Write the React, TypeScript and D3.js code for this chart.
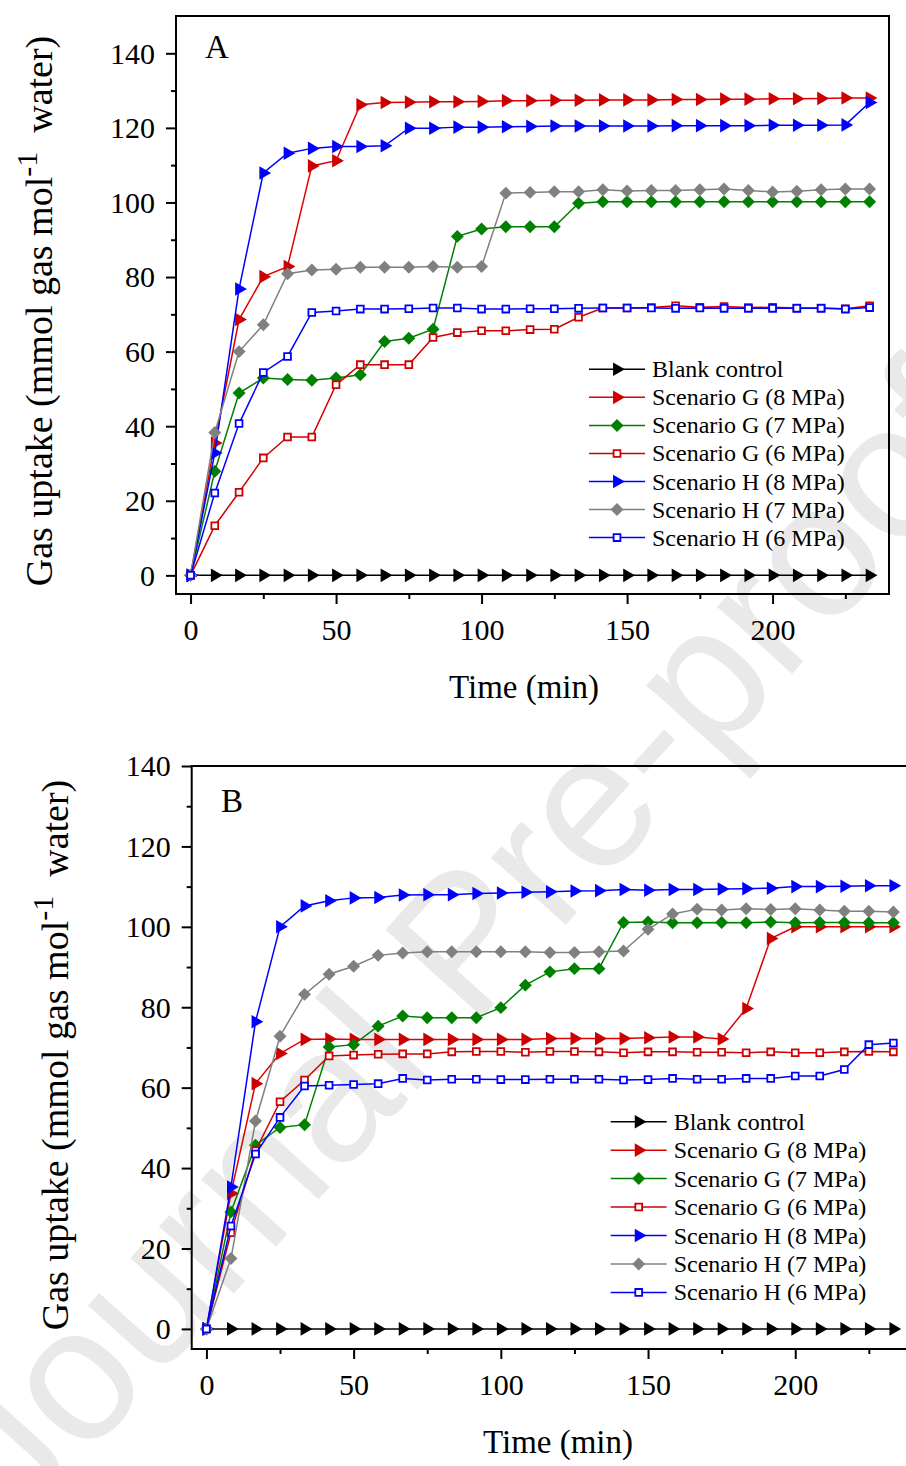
import { useEffect, useRef } from 'react';
import * as d3 from 'd3';

// time points (min)
const time = [0, 8.33, 16.67, 25, 33.33, 41.67, 50, 58.33, 66.67, 75, 83.33, 91.67, 100, 108.33, 116.67,
  125, 133.33, 141.67, 150, 158.33, 166.67, 175, 183.33, 191.67, 200, 208.33, 216.67, 225, 233.33];

const seriesNames = ['Blank control', 'Scenario G (8 MPa)', 'Scenario G (7 MPa)', 'Scenario G (6 MPa)',
  'Scenario H (8 MPa)', 'Scenario H (7 MPa)', 'Scenario H (6 MPa)'];

const xTicks = [0, 50, 100, 150, 200];
const xMinor = [25, 75, 125, 175, 225];
const yTicks = [0, 20, 40, 60, 80, 100, 120, 140];
const yMinor = [10, 30, 50, 70, 90, 110, 130];

// panel A
const blankA = [0, 0, 0, 0, 0, 0, 0, 0, 0, 0, 0, 0, 0, 0, 0, 0, 0, 0, 0, 0, 0, 0, 0, 0, 0, 0, 0, 0, 0];
const g8A = [0, 35.5, 68.6, 80.1, 82.8, 109.8, 111.2, 126.2, 126.8, 126.9, 127.0, 127.0, 127.1, 127.3, 127.3,
  127.4, 127.4, 127.5, 127.5, 127.5, 127.6, 127.6, 127.7, 127.7, 127.8, 127.8, 127.9, 128.0, 128.0];
const g7A = [0, 27.9, 48.9, 52.9, 52.5, 52.3, 52.9, 53.8, 62.7, 63.6, 66.0, 90.9, 92.9, 93.5, 93.5,
  93.5, 99.8, 100.2, 100.2, 100.2, 100.2, 100.2, 100.2, 100.2, 100.2, 100.2, 100.2, 100.2, 100.2];
const g6A = [0, 13.3, 22.3, 31.5, 37.1, 37.1, 51.1, 56.5, 56.5, 56.5, 63.8, 65.1, 65.6, 65.6, 65.9,
  66.0, 69.2, 71.7, 71.7, 71.8, 72.3, 71.9, 72.1, 71.8, 71.9, 71.7, 71.7, 71.5, 72.3];
const h8A = [0, 32.8, 76.8, 107.9, 113.2, 114.5, 115.0, 115.0, 115.2, 119.9, 119.9, 120.2, 120.2, 120.3, 120.4,
  120.5, 120.5, 120.5, 120.5, 120.5, 120.6, 120.6, 120.6, 120.6, 120.7, 120.7, 120.7, 120.8, 126.8];
const h7A = [0, 38.3, 60.0, 67.2, 80.9, 81.9, 82.1, 82.6, 82.6, 82.6, 82.8, 82.6, 82.8, 102.5, 102.7,
  102.9, 102.9, 103.4, 103.1, 103.2, 103.2, 103.4, 103.6, 103.2, 102.8, 103.0, 103.4, 103.6, 103.6];
const h6A = [0, 22.1, 40.7, 54.4, 58.7, 70.5, 70.9, 71.4, 71.4, 71.5, 71.7, 71.7, 71.4, 71.4, 71.5,
  71.5, 71.6, 71.7, 71.7, 71.7, 71.6, 71.7, 71.6, 71.6, 71.6, 71.6, 71.6, 71.4, 71.8];

// panel B
const blankB = [0, 0, 0, 0, 0, 0, 0, 0, 0, 0, 0, 0, 0, 0, 0, 0, 0, 0, 0, 0, 0, 0, 0, 0, 0, 0, 0, 0, 0];
const g8B = [0, 33.7, 61.0, 68.5, 72.0, 72.1, 72.0, 72.0, 72.0, 72.0, 72.0, 72.0, 72.0, 72.0, 72.2,
  72.2, 72.2, 72.2, 72.4, 72.6, 72.6, 72.1, 79.7, 97.1, 100.0, 100.0, 100.0, 100.0, 100.0];
const g7B = [0, 29.1, 45.7, 50.1, 50.8, 70.1, 70.7, 75.3, 77.8, 77.4, 77.4, 77.4, 79.9, 85.5, 88.8,
  89.6, 89.6, 101.1, 101.2, 101.0, 101.0, 101.1, 101.0, 101.2, 101.0, 101.1, 101.1, 101.0, 101.0];
const g6B = [0, 23.9, 44.3, 56.5, 61.9, 67.9, 68.1, 68.3, 68.4, 68.4, 68.9, 69.0, 69.0, 68.8, 69.0,
  69.0, 68.9, 68.7, 68.9, 68.9, 68.8, 68.8, 68.7, 68.9, 68.7, 68.7, 68.9, 69.0, 68.9];
const h8B = [0, 35.3, 76.4, 100.0, 105.2, 106.5, 107.2, 107.3, 107.9, 108.0, 108.0, 108.3, 108.4, 108.6, 108.7,
  108.9, 109.0, 109.3, 109.1, 109.3, 109.3, 109.4, 109.5, 109.6, 110.0, 110.0, 110.1, 110.2, 110.2];
const h7B = [0, 17.5, 51.7, 72.8, 83.2, 88.2, 90.2, 92.9, 93.5, 93.8, 93.8, 93.8, 93.8, 93.8, 93.6,
  93.6, 93.8, 94.0, 99.4, 103.2, 104.4, 104.2, 104.5, 104.3, 104.5, 104.2, 103.9, 103.9, 103.7];
const h6B = [0, 25.6, 43.5, 52.6, 60.4, 60.6, 60.8, 61.0, 62.3, 61.9, 62.1, 62.1, 62.0, 62.0, 62.1,
  62.1, 62.1, 61.9, 62.0, 62.3, 62.1, 62.1, 62.3, 62.3, 62.9, 62.9, 64.5, 70.7, 71.1];

// one style per series, same order as seriesNames
const styles = [
  { line: '#000000', mark: '#000000', shape: 'tri' },
  { line: '#e00000', mark: '#cc0000', shape: 'tri' },
  { line: '#008000', mark: '#008000', shape: 'dia' },
  { line: '#d00000', mark: '#cc0000', shape: 'sq' },
  { line: '#0000ff', mark: '#0000ff', shape: 'tri' },
  { line: '#808080', mark: '#808080', shape: 'dia' },
  { line: '#0000ff', mark: '#0000ff', shape: 'sq' },
];

const FONT = '"Liberation Serif", "Times New Roman", serif';

function addMarker(sel, shape, color) {
  if (shape === 'tri') {
    sel.append('path')
      .attr('d', d3.symbol(d3.symbolTriangle, 82)())
      .attr('transform', (d) => `${d} rotate(90)`)
      .attr('fill', color);
  }
}

function drawPanel(svg, p, series, label) {
  const x = d3.scaleLinear().domain([-5, 240]).range([p.left, p.right]);
  const y = d3.scaleLinear().domain([-5, p.yMax]).range([p.bottom, p.top]);

  const g = svg.append('g');

  // axes
  const xAxis = g.append('g')
    .attr('transform', `translate(0,${p.bottom})`)
    .call(d3.axisBottom(x).tickValues(xTicks).tickSize(10).tickPadding(14.5).tickFormat(d3.format('d')));
  const xAxisMinor = g.append('g')
    .attr('transform', `translate(0,${p.bottom})`)
    .call(d3.axisBottom(x).tickValues(xMinor).tickSize(5).tickFormat(() => ''));
  const yAxis = g.append('g')
    .attr('transform', `translate(${p.left},0)`)
    .call(d3.axisLeft(y).tickValues(yTicks).tickSize(10).tickPadding(11).tickFormat(d3.format('d')));
  const yAxisMinor = g.append('g')
    .attr('transform', `translate(${p.left},0)`)
    .call(d3.axisLeft(y).tickValues(yMinor).tickSize(5).tickFormat(() => ''));

  [xAxis, xAxisMinor, yAxis, yAxisMinor].forEach((a) => {
    a.select('.domain').remove();
    a.selectAll('line').attr('stroke', '#000').attr('stroke-width', 2);
    a.selectAll('text').attr('font-family', FONT).attr('font-size', 30).attr('fill', '#000');
  });
  yAxis.selectAll('text').attr('dy', '0.33em');

  g.append('rect')
    .attr('x', p.left).attr('y', p.top)
    .attr('width', p.right - p.left).attr('height', p.bottom - p.top)
    .attr('fill', 'none').attr('stroke', '#000').attr('stroke-width', 2);

  // series
  const line = d3.line().x((d) => x(d[0])).y((d) => y(d[1]));
  series.forEach((vals, k) => {
    const st = styles[k];
    const pts = vals.map((v, i) => [time[i], v]);
    g.append('path')
      .attr('d', line(pts))
      .attr('fill', 'none')
      .attr('stroke', st.line)
      .attr('stroke-width', 1.5);
    drawSymbols(g, pts.map((d) => [x(d[0]), y(d[1])]), st);
  });

  // legend
  seriesNames.forEach((name, k) => {
    const st = styles[k];
    const ly = p.legY + k * p.legStep;
    g.append('line')
      .attr('x1', p.legX).attr('x2', p.legX + 56)
      .attr('y1', ly).attr('y2', ly)
      .attr('stroke', st.line).attr('stroke-width', 1.5);
    drawSymbols(g, [[p.legX + 28, ly]], st);
    g.append('text')
      .attr('x', p.legX + 63).attr('y', ly + 8)
      .attr('font-family', FONT).attr('font-size', 24)
      .text(name);
  });

  // panel letter
  g.append('text')
    .attr('x', p.labX).attr('y', p.labY)
    .attr('font-family', FONT).attr('font-size', 33)
    .text(label);

  // axis titles
  g.append('text')
    .attr('x', p.xtX).attr('y', p.bottom + 104)
    .attr('text-anchor', 'middle')
    .attr('font-family', FONT).attr('font-size', 33)
    .text('Time (min)');

  const yt = g.append('text')
    .attr('transform', `translate(${p.ytX},${p.ytY}) rotate(-90)`)
    .attr('text-anchor', 'middle')
    .attr('font-family', FONT).attr('font-size', 38);
  yt.append('tspan').text('Gas uptake (mmol gas mol');
  yt.append('tspan').attr('dy', -15).attr('font-size', 30).text('-1');
  yt.append('tspan').attr('dy', 15).text('\u00a0 water)');
}

function drawSymbols(g, pts, st) {
  const sel = g.append('g').selectAll('path').data(pts).join('path');
  if (st.shape === 'tri') {
    sel.attr('d', d3.symbol(d3.symbolTriangle, 80)())
      .attr('transform', (d) => `translate(${d[0]},${d[1]}) rotate(90)`)
      .attr('fill', st.mark);
  } else if (st.shape === 'dia') {
    sel.attr('d', d3.symbol(d3.symbolSquare, 84)())
      .attr('transform', (d) => `translate(${d[0]},${d[1]}) rotate(45)`)
      .attr('fill', st.mark);
  } else {
    sel.attr('d', d3.symbol(d3.symbolSquare, 46)())
      .attr('transform', (d) => `translate(${d[0]},${d[1]})`)
      .attr('fill', '#fff')
      .attr('stroke', st.mark)
      .attr('stroke-width', 1.8);
  }
}

export default function App() {
  const svgRef = useRef(null);

  useEffect(() => {
    if (!svgRef.current) return;
    document.body.style.margin = '0';
    const svg = d3.select(svgRef.current);
    svg.selectAll('*').remove();

    svg.append('rect').attr('width', 906).attr('height', 1466).attr('fill', '#fff');

    // watermark
    svg.append('text')
      .attr('transform', 'translate(20,1531) rotate(-48)')
      .attr('font-family', '"Liberation Sans", Arial, sans-serif')
      .attr('font-size', 190)
      .attr('fill', '#e9e9e9')
      .text('Journal Pre-proof');

    drawPanel(svg, {
      left: 176, right: 889, top: 16, bottom: 594, yMax: 150,
      legX: 589, legY: 369.3, legStep: 28.05,
      labX: 205, labY: 58, xtX: 524, ytX: 52, ytY: 311,
    }, [blankA, g8A, g7A, g6A, h8A, h7A, h6A], 'A');

    drawPanel(svg, {
      left: 191.7, right: 913, top: 766, bottom: 1349, yMax: 140,
      legX: 610.7, legY: 1121.7, legStep: 28.45,
      labX: 221, labY: 812, xtX: 558, ytX: 68, ytY: 1055,
    }, [blankB, g8B, g7B, g6B, h8B, h7B, h6B], 'B');
  }, []);

  return (
    <svg ref={svgRef} width={906} height={1466}
      style={{ position: 'absolute', left: 0, top: 0, display: 'block' }} />
  );
}
